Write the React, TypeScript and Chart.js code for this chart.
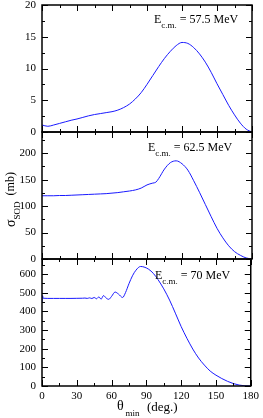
import React, { useEffect, useRef } from "react";
import { Chart, registerables } from "chart.js";

Chart.register(...registerables);

const FONT = '"Liberation Serif", "Times New Roman", serif';

// Panel 1: E = 57.5 MeV
const theta1 = [0, 5, 10, 15, 20, 25, 30, 35, 40, 45, 50, 55, 60, 65, 70, 75, 80, 85, 90, 95, 100, 105, 110, 115, 120, 125, 130, 135, 140, 145, 150, 155, 160, 165, 170, 175, 180];
const sigma1 = [1.1, 0.9, 1.1, 1.35, 1.6, 1.85, 2.05, 2.3, 2.55, 2.75, 2.9, 3.05, 3.2, 3.45, 3.85, 4.4, 5.2, 6.2, 7.5, 8.9, 10.3, 11.6, 12.7, 13.6, 14.1, 13.95, 13.3, 12.3, 11.0, 9.4, 7.6, 5.9, 4.2, 2.7, 1.4, 0.45, 0];

// Panel 2: E = 62.5 MeV
const theta2 = [0, 5, 10, 15, 20, 25, 30, 35, 40, 45, 50, 55, 60, 65, 70, 75, 80, 85, 90, 95, 97.5, 100, 105, 110, 115, 120, 125, 130, 135, 140, 145, 150, 155, 160, 165, 170, 175, 180];
const sigma2 = [119.5, 119.5, 119.5, 120, 120, 120.5, 121, 121.5, 122, 122.5, 123, 123.5, 124.5, 125.5, 127, 128.5, 130.5, 134, 140, 143.5, 145, 152, 170, 182, 185.5, 180, 168, 148, 126, 103, 80, 58, 40, 25, 14, 7, 2, 0];

// Panel 3: E = 70 MeV
const theta3 = [0, 0.5, 1, 5, 10, 15, 20, 25, 30, 35, 37, 39, 41, 43, 45, 47, 49, 51, 53, 55.5, 57.5, 60, 63, 66, 69.5, 72, 75, 78, 81, 85, 88, 92, 96, 100, 105, 110, 115, 120, 125, 130, 135, 140, 145, 150, 155, 160, 165, 170, 175, 180];
const sigma3 = [445, 484, 470, 469, 469, 469, 469, 469, 469.5, 470, 471, 469, 472, 468.5, 474, 467, 477, 465, 484, 470, 464, 480, 503, 492, 474, 500, 548, 590, 620, 640, 637, 625, 603, 570, 520, 460, 390, 318, 255, 198, 150, 112, 80, 58, 40, 25, 13, 5, 1, 0];

const energies = ["57.5", "62.5", "70"];
const yMaxes = [20, 240, 680];
const yMinorSteps = [2.5, 25, 50];
const yMajorSteps = [5, 50, 100];
const xMajorStep = 30;
const xMinorStep = 15;

const PANEL_TOPS = [5, 132, 259];
const PANEL_H = 127;
const PAD = 13;
const labelXs = [154, 148, 155];
const labelDy = [18, 19, 20];

function isMult(v: number, s: number) {
  const r = v / s;
  return Math.abs(r - Math.round(r)) < 1e-6;
}

function makePlugin(idx: number) {
  return {
    id: "frame" + idx,
    afterDraw(chart: any) {
      const { ctx, chartArea: a, scales } = chart;
      const xs = scales.x;
      const ys = scales.y;
      ctx.save();
      ctx.strokeStyle = "#000";
      ctx.lineWidth = 1;
      const line = (x1: number, y1: number, x2: number, y2: number) => {
        ctx.beginPath();
        ctx.moveTo(x1, y1);
        ctx.lineTo(x2, y2);
        ctx.stroke();
      };
      for (let v = 0; v <= 180; v += xMinorStep) {
        const px = Math.round(xs.getPixelForValue(v)) + 0.5;
        const len = isMult(v, xMajorStep) ? 6 : 3;
        line(px, a.bottom, px, a.bottom - len);
        line(px, a.top, px, a.top + len);
      }
      const yMax = yMaxes[idx];
      for (let v = 0; v <= yMax + 1e-9; v += yMinorSteps[idx]) {
        const py = Math.round(ys.getPixelForValue(v)) + 0.5;
        const len = isMult(v, yMajorSteps[idx]) ? 6 : 3;
        line(a.left, py, a.left + len, py);
        line(a.right, py, a.right - len, py);
      }
      ctx.lineWidth = 1.5;
      ctx.strokeRect(a.left, a.top, a.right - a.left, a.bottom - a.top);

      // energy annotation
      ctx.fillStyle = "#000";
      ctx.textBaseline = "alphabetic";
      ctx.textAlign = "left";
      let tx = labelXs[idx];
      const by = a.top + labelDy[idx];
      ctx.font = "12px " + FONT;
      ctx.fillText("E", tx, by);
      tx += ctx.measureText("E").width;
      ctx.font = "9px " + FONT;
      ctx.fillText("c.m.", tx, by + 4.5);
      tx += ctx.measureText("c.m.").width;
      ctx.font = "12px " + FONT;
      ctx.fillText(" = " + energies[idx] + " MeV", tx, by);

      if (idx === 1) {
        // y-axis title, rotated
        ctx.save();
        ctx.translate(15, a.top + 95);
        ctx.rotate(-Math.PI / 2);
        ctx.font = "14px " + FONT;
        ctx.fillText("σ", 0, 0);
        let ox = ctx.measureText("σ").width;
        ctx.font = "9px " + FONT;
        ctx.fillText("SOD", ox, 4.5);
        ox += ctx.measureText("SOD").width;
        ctx.font = "12px " + FONT;
        ctx.fillText("(mb)", ox + 6, -1);
        ctx.restore();
      }
      if (idx === 2) {
        ctx.font = "14px " + FONT;
        ctx.fillText("θ", a.left + 75, a.bottom + 24);
        ctx.font = "9px " + FONT;
        ctx.fillText("min", a.left + 83.5, a.bottom + 30);
        ctx.font = "13px " + FONT;
        ctx.fillText("(deg.)", a.left + 105, a.bottom + 25);
      }
      ctx.restore();
    },
  };
}

const thetas = [theta1, theta2, theta3];
const sigmas = [sigma1, sigma2, sigma3];

function Panel({ idx }: { idx: number }) {
  const ref = useRef<HTMLCanvasElement | null>(null);
  const last = idx === 2;
  const top = PANEL_TOPS[idx] - PAD;
  const height = last ? 418 - top : PANEL_H + 2 * PAD;
  useEffect(() => {
    const canvas = ref.current;
    if (!canvas) return;
    const data = thetas[idx].map((t, i) => ({ x: t, y: sigmas[idx][i] }));
    const xScale: any = {
      type: "linear",
      display: last,
      min: 0,
      max: 180,
      grid: { display: false, drawTicks: false },
      border: { display: false },
      ticks: {
        stepSize: xMinorStep,
        autoSkip: false,
        maxRotation: 0,
        padding: 4,
        color: "#000",
        font: { family: FONT, size: 11 },
        callback: (v: any) => (isMult(Number(v), xMajorStep) ? String(v) : ""),
      },
    };
    if (last) {
      xScale.afterFit = (s: any) => {
        s.height = 32;
      };
    }
    const chart = new Chart(canvas, {
      type: "line",
      data: {
        datasets: [
          {
            data,
            borderColor: "#1a1aff",
            borderWidth: 1,
            pointRadius: 0,
            fill: false,
            cubicInterpolationMode: "monotone",
          },
        ],
      },
      options: {
        animation: false,
        responsive: false,
        maintainAspectRatio: false,
        events: [],
        layout: {
          padding: { left: 0, right: 11, top: PAD, bottom: last ? 0 : PAD },
        },
        plugins: { legend: { display: false }, tooltip: { enabled: false }, title: { display: false } },
        scales: {
          x: xScale,
          y: {
            type: "linear",
            min: 0,
            max: yMaxes[idx],
            grid: { display: false, drawTicks: false },
            border: { display: false },
            afterFit: (s: any) => {
              s.width = 42;
            },
            ticks: {
              stepSize: yMinorSteps[idx],
              autoSkip: false,
              padding: 6,
              color: "#000",
              font: { family: FONT, size: 11 },
              callback: (v: any) => (isMult(Number(v), yMajorSteps[idx]) ? String(v) : ""),
            },
          },
        },
      },
      plugins: [makePlugin(idx)],
    } as any);
    // place the canvas so the plot area lands on the panel's row
    const a = chart.chartArea;
    canvas.style.top = PANEL_TOPS[idx] - a.top + "px";
    return () => chart.destroy();
  }, [idx]);
  return (
    <canvas
      ref={ref}
      width={263}
      height={height}
      style={{ position: "absolute", left: 0, top, width: 263, height }}
    />
  );
}

export default function App() {
  return (
    <div
      style={{
        position: "fixed",
        left: 0,
        top: 0,
        width: 263,
        height: 418,
        overflow: "hidden",
        background: "#fff",
      }}
    >
      <Panel idx={0} />
      <Panel idx={1} />
      <Panel idx={2} />
    </div>
  );
}
